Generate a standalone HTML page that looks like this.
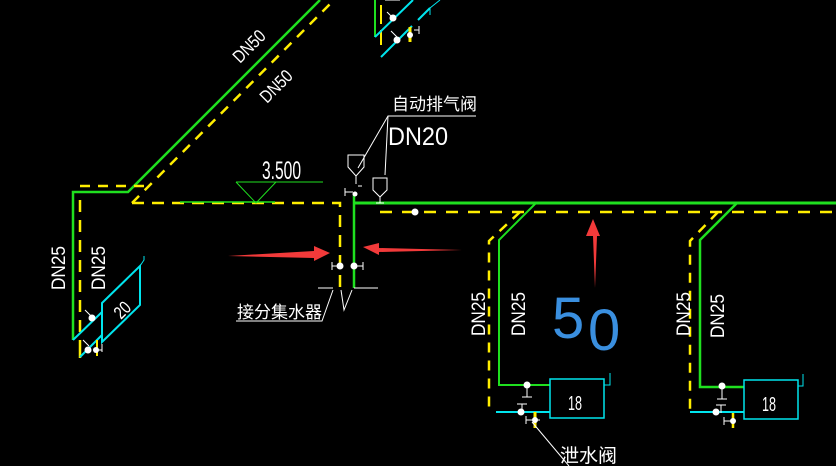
<!DOCTYPE html>
<html><head><meta charset="utf-8"><style>html,body{margin:0;padding:0;background:#000;}svg{display:block}</style></head><body>
<svg width="836" height="466" viewBox="0 0 836 466" xmlns="http://www.w3.org/2000/svg" font-family="Liberation Sans, Noto Sans CJK SC, sans-serif">
<rect width="836" height="466" fill="#000"/>
<g fill="none" stroke-linecap="butt">
<polyline points="73,340 73,192 128,192 320,0" stroke="#1fe01f" stroke-width="2.5"/>
<line x1="132" y1="203" x2="334" y2="0" stroke="#ffee00" stroke-width="2.5" stroke-dasharray="10,8"/>
<line x1="80" y1="186" x2="148" y2="186" stroke="#ffee00" stroke-width="2.5" stroke-dasharray="10,8"/>
<line x1="80" y1="200" x2="80" y2="332" stroke="#ffee00" stroke-width="2.5" stroke-dasharray="12,8"/>
<line x1="80" y1="340" x2="80" y2="358" stroke="#ffee00" stroke-width="2.5"/>
<polyline points="132,203 340,203 340,288" stroke="#ffee00" stroke-width="2.5" stroke-dasharray="12,8"/>
<line x1="180" y1="202" x2="275" y2="202" stroke="#1fe01f" stroke-width="1.5"/>
<polyline points="236,182 323,182" stroke="#1fe01f" stroke-width="1"/>
<polyline points="236,182 256,203 276,182" stroke="#1fe01f" stroke-width="1"/>
<line x1="354" y1="195" x2="354" y2="288" stroke="#1fe01f" stroke-width="2.5"/>
<line x1="354" y1="203" x2="836" y2="203" stroke="#1fe01f" stroke-width="3"/>
<line x1="380" y1="212" x2="836" y2="212" stroke="#ffee00" stroke-width="2.5" stroke-dasharray="12,10"/>
<line x1="318" y1="288" x2="333" y2="288" stroke="#fff" stroke-width="1"/>
<line x1="354" y1="288" x2="378" y2="288" stroke="#fff" stroke-width="1"/>
<polyline points="236,321 322,321 333,290" stroke="#fff" stroke-width="1"/>
<polyline points="341,290 344,310 352,290" stroke="#fff" stroke-width="1"/>
<path d="M332,262v8M332,266h8M357,266h6M363,262v8" stroke="#fff" stroke-width="1"/>
<path d="M348,155h16v12l-8,9l-8,-9z" stroke="#fff" stroke-width="1"/>
<path d="M373,178h14v12l-7,7l-7,-7z" stroke="#fff" stroke-width="1"/>
<path d="M356,176v8M345,188v8M345,192h8M358,186h4M380,197v6M376,203h8" stroke="#fff" stroke-width="1"/>
<polyline points="358,168 388,116 476,116" stroke="#fff" stroke-width="1"/>
<polyline points="385,175 388,116" stroke="#fff" stroke-width="1"/>
<polyline points="536,203 499,240 499,385 550,385" stroke="#1fe01f" stroke-width="2"/>
<polyline points="520,212 489,241 489,412" stroke="#ffee00" stroke-width="2.5" stroke-dasharray="10,8"/>
<line x1="496" y1="412" x2="550" y2="412" stroke="#00e5ee" stroke-width="2"/>
<rect x="550" y="379" width="54" height="39" stroke="#00e5ee" stroke-width="1.5"/>
<polyline points="604,385 610,385 610,373" stroke="#00e5ee" stroke-width="1"/>
<path d="M527,385v12M522,397h10M517,404h10M522,404v8M526,420h14M526,416v8" stroke="#fff" stroke-width="1"/>
<line x1="535" y1="412" x2="535" y2="428" stroke="#ffee00" stroke-width="3"/>
<line x1="532" y1="422" x2="569" y2="466" stroke="#fff" stroke-width="1"/>
<polyline points="737,203 700,240 700,387 744,387" stroke="#1fe01f" stroke-width="2.5"/>
<polyline points="718,212 690,241 690,412" stroke="#ffee00" stroke-width="2.5" stroke-dasharray="10,8"/>
<line x1="690" y1="412" x2="744" y2="412" stroke="#00e5ee" stroke-width="2"/>
<rect x="744" y="380" width="54" height="39" stroke="#00e5ee" stroke-width="1.5"/>
<polyline points="798,386 803,386 803,374" stroke="#00e5ee" stroke-width="1"/>
<path d="M722,387v12M717,399h10M716,405h10M721,405v8M724,421h10M724,417v8" stroke="#fff" stroke-width="1"/>
<line x1="733" y1="413" x2="733" y2="428" stroke="#ffee00" stroke-width="2.5"/>
<polygon points="102,303 140,266 140,305 102,342" stroke="#00e5ee" stroke-width="2"/>
<polyline points="140,266 144,260 144,256" stroke="#00e5ee" stroke-width="1"/>
<line x1="73" y1="340" x2="102" y2="312" stroke="#00e5ee" stroke-width="2"/>
<line x1="80" y1="357" x2="102" y2="335" stroke="#00e5ee" stroke-width="2"/>
<path d="M85,310l6,6M83,340l6,6M102,344v8M97,350h5" stroke="#fff" stroke-width="1"/>
<line x1="97" y1="340" x2="97" y2="356" stroke="#ffee00" stroke-width="2"/>
<line x1="375" y1="0" x2="375" y2="37" stroke="#1fe01f" stroke-width="2"/>
<line x1="381" y1="5" x2="381" y2="24" stroke="#ffee00" stroke-width="2"/>
<line x1="381" y1="30" x2="381" y2="45" stroke="#ffee00" stroke-width="2"/>
<line x1="375" y1="37" x2="413" y2="0" stroke="#00e5ee" stroke-width="2"/>
<line x1="381" y1="57" x2="412" y2="26" stroke="#00e5ee" stroke-width="2"/>
<line x1="418" y1="20" x2="430" y2="8" stroke="#00e5ee" stroke-width="2"/>
<polyline points="430,15 430,8 440,0" stroke="#00e5ee" stroke-width="1"/>
<line x1="410" y1="27" x2="410" y2="42" stroke="#ffee00" stroke-width="3"/>
<path d="M414,30h5M419,34v-8M385,0h15M387,12l6,6M391,31l6,6" stroke="#fff" stroke-width="1"/>
</g>
<g fill="#fff">
<circle cx="340" cy="266" r="3.5"/><circle cx="354" cy="266" r="3.5"/>
<circle cx="355" cy="194" r="2.5"/><circle cx="415" cy="212" r="3.5"/>
<circle cx="527" cy="385" r="3.5"/><circle cx="521" cy="412" r="3.5"/><circle cx="535" cy="420" r="3"/>
<circle cx="722" cy="386" r="3.5"/><circle cx="716" cy="412" r="3.5"/><circle cx="733" cy="421" r="3"/>
<circle cx="92" cy="318" r="3.5"/><circle cx="88" cy="350" r="3.5"/><circle cx="96" cy="350" r="3"/>
<circle cx="393" cy="18" r="3.5"/><circle cx="397" cy="40" r="3.5"/><circle cx="410" cy="35" r="3"/>
</g>
<g fill="#f23a3a">
<polygon points="228,256 314,251 314,246 330,253 314,261 314,258"/>
<polygon points="462,250 379,248 379,243 363,247 379,255 379,252"/>
<polygon points="595,288 593,236 586,236 593,219 600,236 597,236"/>
</g>
<g fill="#fff">
<text x="392" y="110" font-size="17">自动排气阀</text>
<text x="388" y="145" font-size="25" textLength="60" lengthAdjust="spacingAndGlyphs">DN20</text>
<text x="262" y="179" font-size="25" textLength="39" lengthAdjust="spacingAndGlyphs">3.500</text>
<text x="237" y="318" font-size="17">接分集水器</text>
<text x="560" y="462" font-size="19">泄水阀</text>
<text x="568" y="410" font-size="20" textLength="14" lengthAdjust="spacingAndGlyphs">18</text>
<text x="762" y="411" font-size="20" textLength="14" lengthAdjust="spacingAndGlyphs">18</text>
<text transform="translate(121,320) rotate(-45)" font-size="18" textLength="16" lengthAdjust="spacingAndGlyphs">20</text>
<text transform="translate(240,64) rotate(-45)" font-size="18" textLength="38" lengthAdjust="spacingAndGlyphs">DN50</text>
<text transform="translate(267,104) rotate(-45)" font-size="18" textLength="38" lengthAdjust="spacingAndGlyphs">DN50</text>
<g font-size="19">
<text transform="translate(65,290) rotate(-90)" textLength="44" lengthAdjust="spacingAndGlyphs">DN25</text>
<text transform="translate(105,290) rotate(-90)" textLength="44" lengthAdjust="spacingAndGlyphs">DN25</text>
<text transform="translate(485,336) rotate(-90)" textLength="44" lengthAdjust="spacingAndGlyphs">DN25</text>
<text transform="translate(525,336) rotate(-90)" textLength="44" lengthAdjust="spacingAndGlyphs">DN25</text>
<text transform="translate(690,336) rotate(-90)" textLength="44" lengthAdjust="spacingAndGlyphs">DN25</text>
<text transform="translate(724,338) rotate(-90)" textLength="44" lengthAdjust="spacingAndGlyphs">DN25</text>
</g>
</g>
<text x="552" y="338" font-size="58" fill="#3a8fdf">5</text>
<text x="588" y="350" font-size="58" fill="#3a8fdf">0</text>
</svg>
</body></html>
